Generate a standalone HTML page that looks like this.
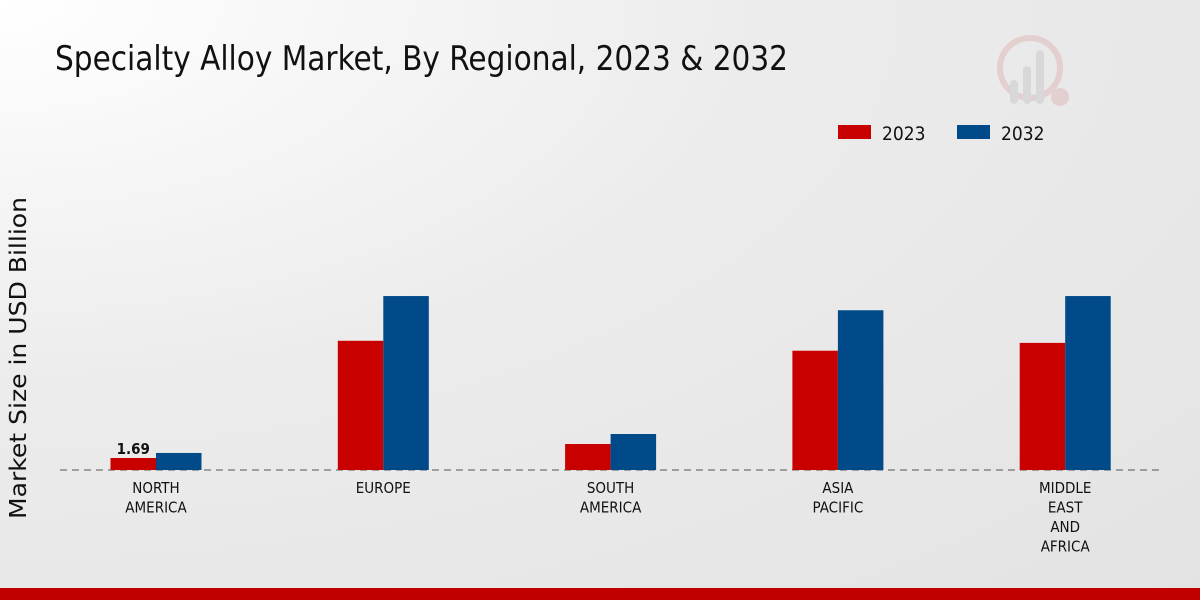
<!DOCTYPE html>
<html><head><meta charset="utf-8">
<style>
html,body{margin:0;padding:0;width:1200px;height:600px;overflow:hidden;}
body{background:radial-gradient(ellipse at 0% 0%,#ffffff 0%,#ececec 45%,#e3e3e3 100%);font-family:"DejaVu Sans Condensed","Liberation Sans Narrow","Liberation Sans",sans-serif;}
svg{position:absolute;left:0;top:0;}
</style></head>
<body>
<svg width="1200" height="600">
<text x="55" y="70" font-size="34" fill="#111" textLength="733" lengthAdjust="spacingAndGlyphs">Specialty Alloy Market, By Regional, 2023 &amp; 2032</text>
<g opacity="0.35">
<circle cx="1030" cy="68" r="30" fill="none" stroke="#d9a0a0" stroke-width="6"/>
<rect x="1010" y="80" width="8" height="24" rx="4" fill="#bbb"/>
<rect x="1023" y="66" width="8" height="38" rx="4" fill="#bbb"/>
<rect x="1036" y="50" width="8" height="54" rx="4" fill="#bbb"/>
<circle cx="1060" cy="97" r="9" fill="#d9a0a0"/>
</g>
<g>
<rect x="838" y="125" width="33" height="14" fill="#c80000"/>
<text x="882" y="140" font-size="19" fill="#111">2023</text>
<rect x="957" y="125" width="33" height="14" fill="#004a8a"/>
<text x="1001" y="140" font-size="19" fill="#111">2032</text>
</g>
<text transform="translate(26,358) rotate(-90)" text-anchor="middle" font-size="23" fill="#111" textLength="322" lengthAdjust="spacingAndGlyphs" font-family="DejaVu Sans,Liberation Sans,sans-serif">Market Size in USD Billion</text>
<line x1="60" y1="470" x2="1160" y2="470" stroke="#555" stroke-dasharray="7,5" stroke-width="1"/>
<g id="bars"></g>
<g id="labels"></g>
</svg>
<div style="position:absolute;left:0;top:588px;width:1200px;height:12px;background:#c00000"></div>
<script>
const categories=[["NORTH","AMERICA"],["EUROPE"],["SOUTH","AMERICA"],["ASIA","PACIFIC"],["MIDDLE","EAST","AND","AFRICA"]];
const values2023=[1.69,18.2,3.66,16.8,17.9];
const values2032=[2.4,24.5,5.07,22.5,24.5];
const valueLabels=["1.69","","","",""];
const NS="http://www.w3.org/2000/svg";
const base=470, ppu=7.1, x0=156, step=227.3, bw=45.5;
const yS=v=>v*ppu;
const xC=i=>x0+i*step;
const bars=document.getElementById('bars'), labels=document.getElementById('labels');
function bar(x,v,color,name){
  const r=document.createElementNS(NS,'rect');
  r.setAttribute('x',x);r.setAttribute('y',base-yS(v));r.setAttribute('width',bw);r.setAttribute('height',yS(v));r.setAttribute('fill',color);
  
  
  bars.appendChild(r);
}
categories.forEach((c,i)=>{
  bar(xC(i)-bw,values2023[i],'#c80000','bar-2023-'+i);
  bar(xC(i),values2032[i],'#004a8a','bar-2032-'+i);
  if(valueLabels[i]){
    const t=document.createElementNS(NS,'text');
    t.setAttribute('x',xC(i)-bw/2);t.setAttribute('y',base-yS(values2023[i])-4);
    t.setAttribute('text-anchor','middle');t.setAttribute('font-size','15');t.setAttribute('font-weight','bold');t.setAttribute('fill','#111');
    t.textContent=valueLabels[i];
    
    
    labels.appendChild(t);
  }
  c.forEach((line,j)=>{
    const t=document.createElementNS(NS,'text');
    t.setAttribute('x',xC(i));t.setAttribute('y',493+j*19.5);
    t.setAttribute('text-anchor','middle');t.setAttribute('font-size','15');t.setAttribute('fill','#111');
    t.textContent=line;
    
    
    labels.appendChild(t);
  });
});
</script>
</body></html>
